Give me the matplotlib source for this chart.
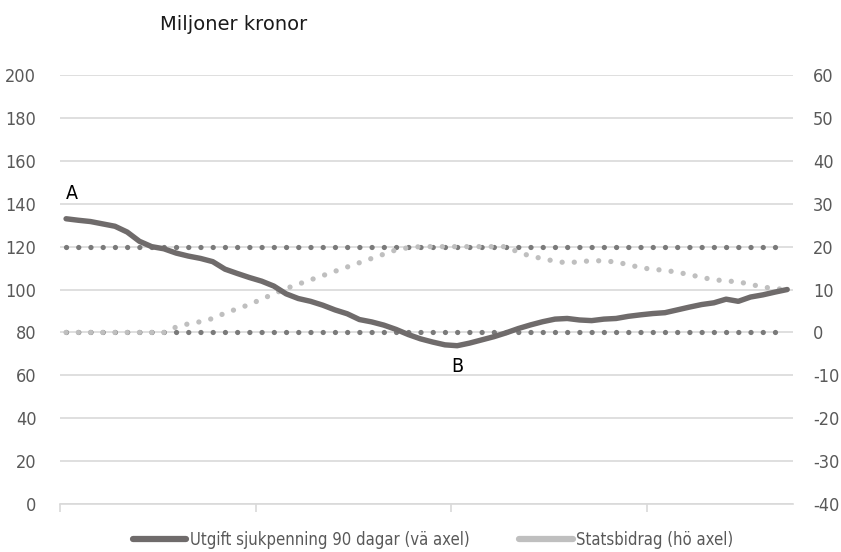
import matplotlib
matplotlib.use('Agg')
import matplotlib.pyplot as plt
from matplotlib import font_manager

# Utgift sjukpenning 90 dagar, miljoner kronor (left axis)
utgift = [133, 132.3, 131.7, 130.6, 129.5, 126.8, 122.5, 120, 119, 117,
          115.6, 114.5, 113, 109.5, 107.5, 105.6, 103.9, 101.6, 98, 95.8,
          94.5, 92.7, 90.5, 88.7, 86, 84.9, 83.4, 81.4, 79, 77,
          75.5, 74.2, 73.8, 75, 76.5, 78, 79.8, 81.8, 83.5, 85,
          86.2, 86.5, 85.8, 85.5, 86.2, 86.5, 87.5, 88.2, 88.8, 89.2,
          90.5, 91.8, 93, 93.8, 95.5, 94.5, 96.5, 97.5, 98.8, 100]

# Statsbidrag (right axis)
statsbidrag = [0, 0, 0, 0, 0, 0, 0, 0, 0, 1.25,
               2, 2.5, 3.25, 4.5, 5.5, 6.5, 7.75, 9, 10.25, 11.25,
               12.25, 13.25, 14.25, 15.25, 16.25, 17.25, 18.25, 19.25, 19.75, 20,
               20, 20, 20, 20, 20, 20, 20, 18.7, 17.8, 17.2,
               16.6, 16.2, 16.5, 16.7, 16.7, 16.4, 15.8, 15.1, 14.7, 14.5,
               14.0, 13.5, 12.8, 12.3, 12.0, 11.8, 11.2, 10.6, 10.2, 10]

# upper and lower limit for statsbidrag (right axis)
tak = [20] * 60
golv = [0] * 60

left_ticks = [0, 20, 40, 60, 80, 100, 120, 140, 160, 180, 200]
right_ticks = [-40, -30, -20, -10, 0, 10, 20, 30, 40, 50, 60]

# try to find a narrow face, the original uses a condensed font
narrow = None
for f in font_manager.fontManager.ttflist:
    if f.stretch in ('condensed', 'semi-condensed', 'extra-condensed', 550, 500) \
            or 'Narrow' in f.name or 'Condensed' in f.name:
        narrow = f
        break
if narrow is not None:
    plt.rcParams['font.family'] = [narrow.name, 'DejaVu Sans']
    plt.rcParams['font.stretch'] = narrow.stretch
    FS = 13
else:
    plt.rcParams['font.family'] = ['DejaVu Sans']
    FS = 11

DARK = '#6f6b6b'
LIGHT = '#bfbfbf'
DOT = '#7a7a7a'
GRID = '#d9d9d9'
LABEL = '#595959'

fig = plt.figure(figsize=(8.41, 5.52), dpi=100)
ax = fig.add_axes([0.0713, 0.087, 0.872, 0.777])
ax2 = ax.twinx()

x = list(range(len(utgift)))

# left axis (solid line) on top, right axis carries the grid and dotted series
ax.set_zorder(ax2.get_zorder() + 1)
ax.patch.set_visible(False)

# round dots, one per category width
LW_DOT = 3.8
dot_style = (0, (0.01, 2.306))
ax2.plot(x, tak, color=DOT, lw=LW_DOT, linestyle=dot_style, dash_capstyle='round')
ax2.plot(x, golv, color=DOT, lw=LW_DOT, linestyle=dot_style, dash_capstyle='round')
ax2.plot(x, statsbidrag, color=LIGHT, lw=LW_DOT, linestyle=dot_style,
         dash_capstyle='round')
ax.plot(x, utgift, color=DARK, lw=3.9, solid_capstyle='round',
        solid_joinstyle='round')

ax.set_xlim(-0.5, 59.5)
ax.set_ylim(0, 200)
ax2.set_ylim(-40, 60)
ax.set_yticks(left_ticks)
ax2.set_yticks(right_ticks)
ax.set_xticks([-0.5, 15.5, 31.5, 47.5])
ax.set_xticklabels([])

ax.grid(False)
ax2.grid(axis='y', color=GRID, lw=1.2)
ax2.set_axisbelow(True)

for a in (ax, ax2):
    for s in a.spines.values():
        s.set_visible(False)
ax.spines['bottom'].set_visible(True)
ax.spines['bottom'].set_color(GRID)
ax.spines['bottom'].set_linewidth(1.2)

ax.tick_params(axis='x', length=6, color=GRID, width=1.2)
ax.tick_params(axis='y', length=0, labelsize=FS, labelcolor=LABEL, pad=17)
ax2.tick_params(axis='y', length=0, labelsize=FS, labelcolor=LABEL, pad=14)
ax2.set_yticklabels([str(t) for t in right_ticks])

fig.text(0.19, 0.955, 'Miljoner kronor', fontsize=14, color='#1a1a1a',
         family='DejaVu Sans', stretch='normal', ha='left', va='center')

ax.annotate('A', (0, utgift[0]), xytext=(0, 11), textcoords='offset points',
            fontsize=FS + 1, ha='left', va='bottom')
ax.annotate('B', (32, min(utgift)), xytext=(0, -8), textcoords='offset points',
            fontsize=FS + 1, ha='center', va='top')

h1, = ax.plot([], [], color=DARK, lw=4.5, solid_capstyle='round')
h2, = ax.plot([], [], color=LIGHT, lw=4.5, solid_capstyle='round')
fig.legend([h1, h2], ['Utgift sjukpenning 90 dagar (vä axel)',
                      'Statsbidrag (hö axel)'],
           loc='center', bbox_to_anchor=(0.515, 0.022), ncol=2, frameon=False,
           fontsize=FS - 1, handlelength=3.2, handletextpad=0.2,
           columnspacing=3, labelcolor=LABEL)

fig.savefig('out.png', dpi=100)
